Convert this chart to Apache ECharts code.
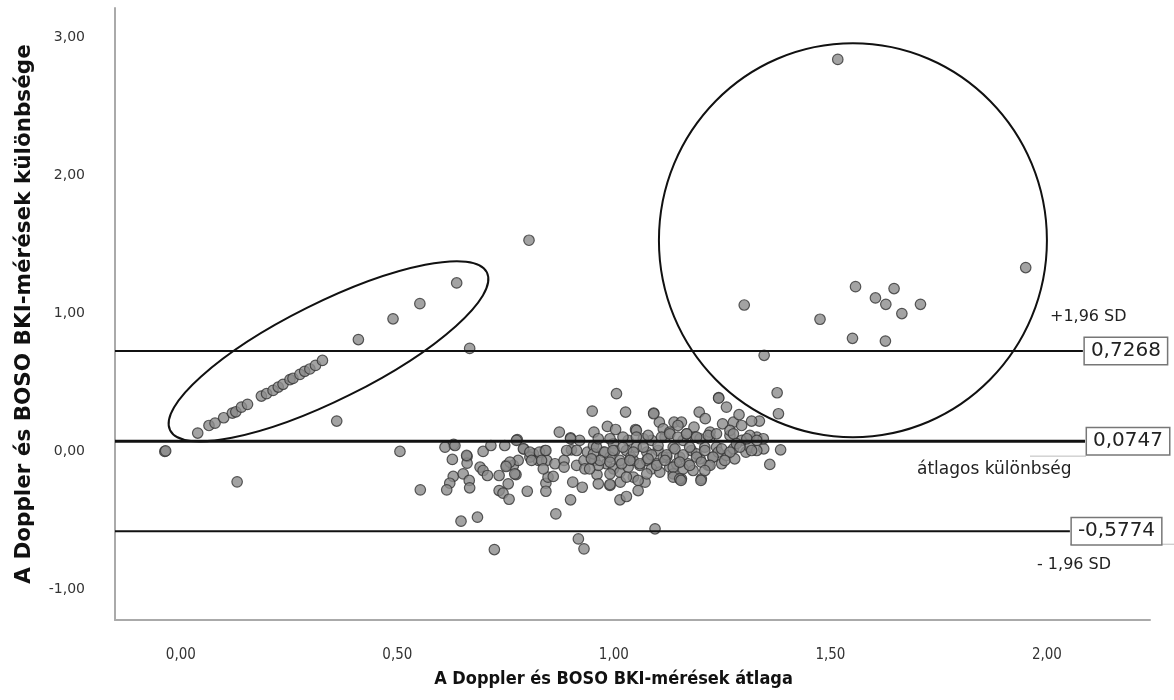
<!DOCTYPE html>
<html>
<head>
<meta charset="utf-8">
<script src="https://cdn.jsdelivr.net/npm/echarts@6/dist/echarts.min.js"></script>
<style>
  html, body { margin: 0; padding: 0; background: #fff; }
  #chart { width: 1174px; height: 700px; }
</style>
</head>
<body>
<div id="chart"></div>
<script>
// tick values
const xTicks = [0, 0.5, 1, 1.5, 2];
const yTicks = [-1, 0, 1, 2, 3];

// limits of agreement
const upperLimit = 0.7268;
const meanDiff = 0.0747;
const lowerLimit = -0.5774;

// points along the diagonal (inside the ellipse)
const ellipsePoints = [
  [0.039, 0.133], [0.065, 0.188], [0.079, 0.205], [0.099, 0.244], [0.119, 0.278],
  [0.127, 0.287], [0.140, 0.321], [0.154, 0.341], [0.186, 0.401], [0.198, 0.418],
  [0.213, 0.442], [0.225, 0.466], [0.236, 0.486], [0.252, 0.520], [0.259, 0.529],
  [0.275, 0.558], [0.286, 0.580], [0.298, 0.597], [0.311, 0.623], [0.327, 0.659],
  [0.41, 0.81], [0.49, 0.96], [0.552, 1.07], [0.637, 1.22]
];

// points inside the big circle
const circlePoints = [
  [1.517, 2.838], [1.951, 1.331], [1.558, 1.193], [1.647, 1.179], [1.604, 1.111],
  [1.628, 1.065], [1.708, 1.065], [1.665, 0.998], [1.301, 1.060], [1.476, 0.957],
  [1.551, 0.819], [1.627, 0.799]
];

// scattered single points
const otherPoints = [
  [-0.037, 0.0], [-0.035, 0.004], [0.13, -0.22], [0.36, 0.22], [0.506, 0.0],
  [0.667, 0.746], [0.804, 1.529], [1.347, 0.696], [1.377, 0.425], [1.380, 0.273],
  [1.242, 0.386], [1.260, 0.321], [1.092, 0.273], [1.197, 0.285], [1.211, 0.237],
  [1.289, 0.266], [1.336, 0.220], [1.318, 0.220]
];

// lower part of the cloud
const lowerPoints = [
  [0.647, -0.505], [0.685, -0.476], [0.724, -0.710], [0.866, -0.452], [0.918, -0.633],
  [0.931, -0.705], [1.095, -0.560], [0.900, -0.350], [1.014, -0.350], [1.029, -0.326],
  [1.056, -0.283], [0.553, -0.278], [0.614, -0.278], [0.667, -0.263], [0.735, -0.283],
  [0.744, -0.302], [0.758, -0.346], [0.800, -0.288], [0.843, -0.288], [0.927, -0.259],
  [0.964, -0.234], [0.991, -0.239], [1.155, -0.210], [1.201, -0.210]
];

// cloud around the mean, left and outer part
const clusterPoints = [
  [1.006, 0.418], [0.950, 0.292], [1.027, 0.285], [1.092, 0.278], [1.242, 0.389],
  [0.874, 0.140], [0.954, 0.140], [0.985, 0.181], [1.004, 0.159], [1.050, 0.159],
  [1.105, 0.212], [1.139, 0.212], [1.156, 0.212], [1.185, 0.176], [1.251, 0.200],
  [1.276, 0.212], [1.295, 0.188], [0.900, 0.099], [0.777, 0.085], [0.630, 0.051],
  [0.610, 0.031], [0.627, -0.058], [0.661, -0.036], [0.661, -0.085], [0.698, 0.0],
  [0.716, 0.043], [0.748, 0.043], [0.792, 0.019], [0.841, 0.007], [0.814, -0.017],
  [0.826, -0.065], [0.845, -0.065], [0.752, -0.101], [0.768, -0.101], [0.779, -0.065],
  [0.691, -0.114], [0.698, -0.138], [0.708, -0.174], [0.735, -0.174], [0.774, -0.167],
  [0.629, -0.181], [0.621, -0.230], [0.652, -0.162], [0.666, -0.210], [0.756, -0.234],
  [0.843, -0.230], [0.848, -0.186], [0.860, -0.181], [0.864, -0.089], [0.885, -0.065],
  [0.885, -0.114], [0.902, 0.012], [0.905, -0.222], [0.914, -0.101], [0.931, -0.065],
  [0.933, -0.126], [0.939, -0.005], [0.953, 0.043], [0.956, -0.065], [0.961, -0.167],
  [0.976, -0.005], [0.983, -0.089], [0.999, 0.056], [1.002, 0.007], [1.014, -0.065],
  [1.015, -0.222], [1.029, 0.007], [1.039, -0.041], [1.045, -0.186], [1.052, 0.031],
  [1.060, -0.101], [1.072, -0.222], [1.076, -0.005], [1.087, 0.080], [1.099, -0.089],
  [1.102, 0.007], [1.118, 0.104], [1.122, -0.041], [1.129, -0.114], [1.137, 0.031],
  [1.137, -0.162], [1.152, -0.041], [1.156, -0.198], [1.160, 0.080], [1.172, -0.089],
  [1.179, 0.007], [1.187, 0.104], [1.199, -0.053], [1.202, -0.198], [1.210, 0.031],
  [1.222, 0.104], [1.229, -0.041], [1.237, 0.031], [1.249, -0.089], [1.260, -0.029],
  [1.268, 0.116], [1.276, 0.019], [1.295, 0.080], [1.305, -0.005], [1.314, 0.031],
  [1.330, 0.104], [1.346, 0.019], [1.360, -0.094], [1.385, 0.012], [1.033, 0.080],
  [1.052, 0.152], [1.068, 0.092], [1.114, 0.164], [1.129, 0.140], [1.148, 0.188],
  [1.168, 0.128], [1.199, 0.092], [1.222, 0.140], [1.268, 0.152], [1.314, 0.116],
  [0.921, 0.080], [0.914, 0.007], [0.891, 0.007], [0.806, -0.041], [0.953, -0.017],
  [0.964, -0.101], [0.991, -0.041], [0.999, -0.126], [1.014, -0.150], [1.033, -0.114],
  [1.045, -0.065], [1.076, -0.065], [1.087, -0.126], [1.106, -0.150], [1.114, -0.041],
  [1.145, -0.089], [1.160, -0.126], [1.183, -0.138], [1.191, -0.017], [1.218, -0.101],
  [1.241, -0.005], [1.279, -0.053], [1.283, 0.056], [1.330, 0.007], [1.345, 0.092],
  [0.900, 0.092], [0.633, 0.043], [0.660, -0.029], [0.775, 0.080], [0.791, 0.019],
  [0.806, -0.005], [0.828, -0.005], [0.843, 0.007], [0.760, -0.077], [0.751, -0.109],
  [0.771, -0.162], [0.833, -0.065], [0.837, -0.126], [0.810, -0.065]
];

// dense core of the cloud (x about 0.95 - 1.33)
const corePoints = [
  [0.960, 0.031], [0.979, -0.005], [0.998, 0.007], [1.021, 0.031], [1.045, -0.005],
  [1.068, 0.031], [1.087, -0.025], [1.102, 0.043], [1.122, -0.025], [1.141, 0.019],
  [1.160, -0.025], [1.175, 0.031], [1.191, -0.041], [1.210, 0.007], [1.229, -0.041],
  [1.249, 0.019], [1.268, -0.005], [1.291, 0.031], [1.318, 0.007], [0.968, -0.065],
  [0.991, -0.077], [1.018, -0.089], [1.037, -0.065], [1.060, -0.089], [1.079, -0.053],
  [1.099, -0.101], [1.118, -0.065], [1.137, -0.114], [1.152, -0.077], [1.175, -0.101],
  [1.202, -0.077], [1.222, -0.101], [1.256, -0.065], [0.964, 0.092], [0.991, 0.092],
  [1.021, 0.104], [1.052, 0.104], [1.079, 0.116], [1.110, 0.104], [1.129, 0.128],
  [1.148, 0.104], [1.168, 0.128], [1.191, 0.104], [1.218, 0.116], [1.237, 0.128],
  [1.276, 0.128], [1.307, 0.092], [1.330, 0.080], [0.991, -0.162], [1.029, -0.186],
  [1.076, -0.162], [1.137, -0.186], [1.152, -0.198], [1.210, -0.138], [0.991, -0.246],
  [1.056, -0.210], [0.944, -0.126], [0.948, -0.053]
];

const fmt = (v) => v.toFixed(2).replace('.', ',');
const condensed = '"DejaVu Sans Condensed", "Liberation Sans Narrow", "Liberation Sans", sans-serif';

const pointStyle = {
  color: '#8c8c8c',
  borderColor: '#333',
  borderWidth: 1.2
};

const refLine = (value, xEnd, width, label) => ({
  type: 'line',
  data: [[-0.152, value], [xEnd, value]],
  symbol: 'none',
  silent: true,
  z: 3,
  lineStyle: { color: '#111', width: width },
  endLabel: {
    show: true,
    formatter: label,
    distance: 2,
    fontFamily: 'DejaVu Sans',
    fontSize: 20,
    lineHeight: 21,
    color: '#222',
    padding: [3, 6, 2, 6],
    borderColor: '#777',
    borderWidth: 1.5,
    backgroundColor: '#fff'
  }
});

const chart = echarts.init(document.getElementById('chart'));
chart.setOption({
  animation: false,
  grid: { left: 115, right: 24, top: 8, bottom: 80 },
  xAxis: {
    type: 'value',
    min: -0.152,
    max: 2.238,
    name: 'A Doppler és BOSO BKI-mérések átlaga',
    nameLocation: 'middle',
    nameGap: 50,
    nameTextStyle: {
      fontFamily: condensed,
      fontWeight: 'bold',
      fontSize: 18,
      color: '#111',
      padding: [0, 38, 0, 0]
    },
    axisLine: { onZero: false, lineStyle: { color: '#aaa', width: 2 } },
    axisTick: { show: false },
    splitLine: { show: false },
    axisLabel: {
      customValues: xTicks,
      formatter: fmt,
      margin: 28,
      fontFamily: condensed,
      fontSize: 15,
      color: '#333'
    }
  },
  yAxis: {
    type: 'value',
    min: -1.22,
    max: 3.21,
    name: 'A Doppler és BOSO BKI-mérések különbsége',
    nameLocation: 'middle',
    nameGap: 80,
    nameRotate: 90,
    nameTextStyle: {
      fontFamily: 'DejaVu Sans',
      fontWeight: 'bold',
      fontSize: 21.5,
      color: '#111'
    },
    axisLine: { onZero: false, lineStyle: { color: '#aaa', width: 2 } },
    axisTick: { show: false },
    splitLine: { show: false },
    axisLabel: {
      customValues: yTicks,
      formatter: fmt,
      margin: 30,
      fontFamily: 'DejaVu Sans',
      fontSize: 14,
      color: '#333'
    }
  },
  series: [
    {
      type: 'scatter',
      symbolSize: 10.5,
      z: 2,
      itemStyle: pointStyle,
      data: [].concat(clusterPoints, corePoints, lowerPoints, otherPoints, ellipsePoints, circlePoints)
    },
    refLine(upperLimit, 2.083, 2, '0,7268'),
    refLine(meanDiff, 2.088, 3, '0,0747'),
    refLine(lowerLimit, 2.053, 2, '-0,5774')
  ]
});

// annotations placed from data coordinates
const px = (p) => chart.convertToPixel({ gridIndex: 0 }, p);
const eC = px([0.341, 0.725]);
const cC = px([1.552, 1.529]);
const upY = px([0, upperLimit])[1];
const meanY = px([0, meanDiff])[1];
const lowY = px([0, lowerLimit])[1];
const noteFont = { fontFamily: 'DejaVu Sans', fontSize: 16, fill: '#222' };

chart.setOption({
  graphic: [
    {
      type: 'ellipse', x: eC[0], y: eC[1], rotation: 0.4625, z: 10,
      shape: { cx: 0, cy: 0, rx: 177, ry: 48.5 },
      style: { fill: 'none', stroke: '#111', lineWidth: 2 }
    },
    {
      type: 'ellipse', x: cC[0], y: cC[1], z: 10,
      shape: { cx: 0, cy: 0, rx: 194, ry: 197 },
      style: { fill: 'none', stroke: '#111', lineWidth: 2 }
    },
    { type: 'text', x: 1050, y: upY - 42, style: Object.assign({ text: '+1,96 SD' }, noteFont) },
    { type: 'text', x: 917, y: meanY + 20, style: Object.assign({ text: 'átlagos különbség' }, noteFont, { fontSize: 17 }) },
    { type: 'text', x: 1037, y: lowY + 26, style: Object.assign({ text: '- 1,96 SD' }, noteFont) },
    {
      type: 'line', shape: { x1: 1030, y1: meanY + 15, x2: 1086, y2: meanY + 15 },
      style: { stroke: '#bbb', lineWidth: 1 }
    },
    {
      type: 'line', shape: { x1: 1070, y1: lowY + 13, x2: 1174, y2: lowY + 13 },
      style: { stroke: '#bbb', lineWidth: 1 }
    }
  ]
});
</script>
</body>
</html>
